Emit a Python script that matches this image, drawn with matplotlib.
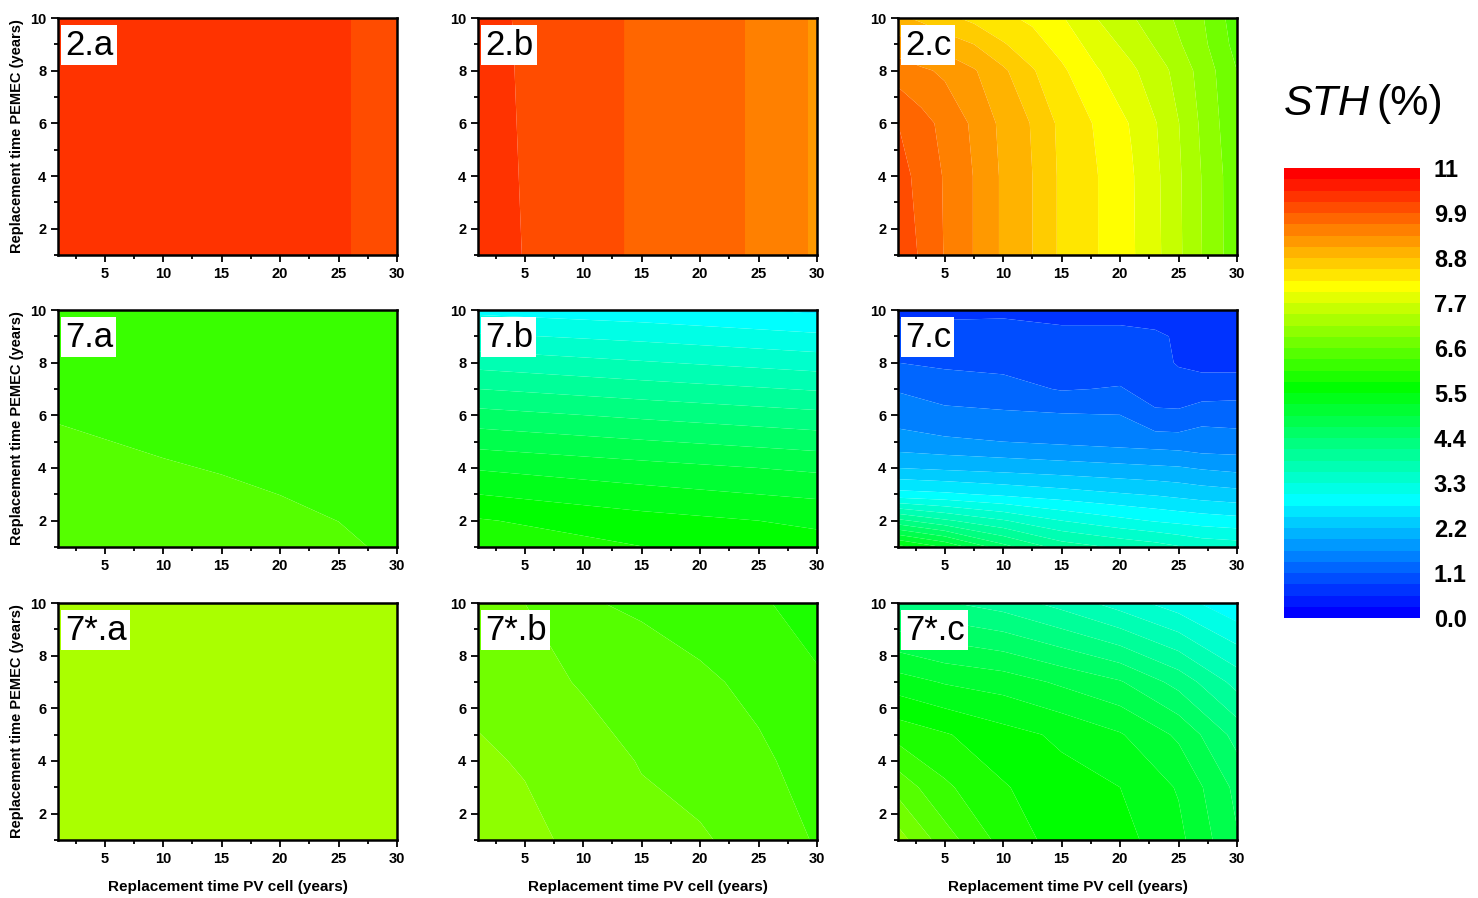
import numpy as np
import matplotlib
matplotlib.use("Agg")
import matplotlib.pyplot as plt
from matplotlib.colors import ListedColormap, BoundaryNorm
from matplotlib.cm import ScalarMappable
from matplotlib.ticker import MultipleLocator

plt.rcParams["font.family"] = ["Liberation Sans", "DejaVu Sans"]

# ---------------------------------------------------------------------------
# Data: STH (%) vs replacement time of PV cell (x) and PEMEC (y)
# ---------------------------------------------------------------------------
x_2a = [1, 26, 26.2, 30]
y_2a = [1, 10]
z_2a = [[10.3, 10.3, 10.05, 10.05],
        [10.3, 10.3, 10.05, 10.05]]

x_2b = [1, 4, 5, 13.4, 13.6, 23.8, 24.0, 29.2, 29.4, 30]
y_2b = [1, 10]
z_2b = [[10.3, 10.25, 10.15, 10.0, 9.8, 9.7, 9.5, 9.4, 9.2, 9.2],
        [10.3, 10.17, 10.1, 10.0, 9.8, 9.7, 9.5, 9.4, 9.2, 9.2]]

x_2c = [1, 3, 5, 7.5, 10, 12.5, 15, 18, 21, 24, 27, 30]
y_2c = [1, 4, 6, 8, 9, 10]
z_2c = [[10.1, 9.86, 9.61, 9.34, 9.03, 8.80, 8.47, 8.26, 8.01, 7.64, 7.15, 6.70],
        [10.0, 9.82, 9.60, 9.34, 9.03, 8.80, 8.47, 8.26, 8.00, 7.63, 7.14, 6.70],
        [9.90, 9.72, 9.55, 9.30, 9.00, 8.78, 8.45, 8.22, 7.95, 7.60, 7.10, 6.65],
        [9.50, 9.40, 9.30, 9.10, 8.85, 8.55, 8.30, 8.00, 7.75, 7.45, 7.05, 6.60],
        [9.20, 9.05, 8.95, 8.80, 8.55, 8.35, 8.15, 7.85, 7.60, 7.30, 6.95, 6.50],
        [8.85, 8.75, 8.60, 8.45, 8.30, 8.20, 8.00, 7.70, 7.45, 7.20, 6.90, 6.45]]

x_7a = [1, 10, 15, 20, 25, 30]
y_7a = [1, 10]
z_7a = [[6.46, 6.40, 6.38, 6.36, 6.34, 6.31],
        [6.20, 6.20, 6.20, 6.20, 6.20, 6.20]]

x_7b = [1, 15, 30]
y_7b = [1, 2, 4, 6, 8, 10]
z_7b = [[5.85, 5.78, 5.60],
        [5.80, 5.60, 5.45],
        [5.20, 5.05, 4.90],
        [4.50, 4.35, 4.20],
        [3.75, 3.60, 3.45],
        [2.95, 2.85, 2.70]]

x_7c = [1, 5, 10, 15, 20, 23, 25, 27, 30]
y_7c = [1, 2, 3, 4, 5, 6, 7, 8, 9, 10]
z_7c = [[5.60, 5.20, 4.50, 4.00, 3.80, 3.70, 3.60, 3.50, 3.45],
        [4.20, 3.90, 3.60, 3.30, 3.10, 3.00, 2.95, 2.90, 2.85],
        [2.85, 2.80, 2.70, 2.60, 2.50, 2.45, 2.40, 2.35, 2.30],
        [2.20, 2.15, 2.10, 2.05, 2.00, 1.97, 1.95, 1.90, 1.85],
        [1.75, 1.70, 1.65, 1.60, 1.55, 1.52, 1.50, 1.45, 1.45],
        [1.55, 1.45, 1.42, 1.40, 1.38, 1.15, 1.15, 1.32, 1.30],
        [1.35, 1.25, 1.20, 1.08, 1.12, 0.98, 0.95, 0.90, 0.95],
        [1.10, 1.05, 1.02, 1.00, 0.95, 0.92, 0.80, 0.78, 0.75],
        [0.95, 0.95, 0.92, 0.88, 0.88, 0.86, 0.80, 0.72, 0.70],
        [0.75, 0.75, 0.78, 0.75, 0.75, 0.72, 0.72, 0.68, 0.65]]

x_7sa = [1, 30]
y_7sa = [1, 10]
z_7sa = [[7.3, 7.3],
         [7.3, 7.3]]

x_7sb = [1, 5, 10, 15, 20, 25, 30]
y_7sb = [1, 4, 7, 10]
z_7sb = [[7.00, 6.95, 6.80, 6.70, 6.63, 6.50, 6.30],
         [6.92, 6.85, 6.75, 6.58, 6.50, 6.38, 6.20],
         [6.80, 6.72, 6.57, 6.47, 6.38, 6.25, 6.08],
         [6.68, 6.60, 6.35, 6.28, 6.18, 6.08, 5.95]]

x_7sc = [1, 5, 10, 15, 20, 25, 30]
y_7sc = [1, 3, 5, 7, 10]
z_7sc = [[7.00, 6.45, 5.95, 5.65, 5.60, 5.30, 4.70],
         [6.50, 6.10, 5.80, 5.60, 5.50, 5.20, 4.60],
         [5.95, 5.80, 5.60, 5.45, 5.25, 4.90, 4.30],
         [5.35, 5.20, 5.10, 4.90, 4.70, 4.30, 3.75],
         [4.30, 4.15, 4.00, 3.75, 3.45, 3.15, 2.80]]

panel_labels = ["2.a", "2.b", "2.c", "7.a", "7.b", "7.c", "7*.a", "7*.b", "7*.c"]
cbar_ticks = [0.0, 1.1, 2.2, 3.3, 4.4, 5.5, 6.6, 7.7, 8.8, 9.9, 11.0]
cbar_ticklabels = ["0.0", "1.1", "2.2", "3.3", "4.4", "5.5", "6.6", "7.7", "8.8", "9.9", "11"]

panels = [(x_2a, y_2a, z_2a), (x_2b, y_2b, z_2b), (x_2c, y_2c, z_2c),
          (x_7a, y_7a, z_7a), (x_7b, y_7b, z_7b), (x_7c, y_7c, z_7c),
          (x_7sa, y_7sa, z_7sa), (x_7sb, y_7sb, z_7sb), (x_7sc, y_7sc, z_7sc)]

# ---------------------------------------------------------------------------
# Rainbow palette, 40 discrete bands 0..11
# ---------------------------------------------------------------------------
n_bands = 40
levels = np.linspace(0, 11, n_bands + 1)
anchor_idx = [0, 10, 20, 29, 39]
anchor_rgb = np.array([(0, 0, 255), (0, 255, 255), (0, 255, 0),
                       (255, 255, 0), (255, 0, 0)]) / 255.0
band_colors = [tuple(np.interp(i, anchor_idx, anchor_rgb[:, k]) for k in range(3))
               for i in range(n_bands)]
cmap = ListedColormap(band_colors)
norm = BoundaryNorm(levels, n_bands)

# ---------------------------------------------------------------------------
# Figure
# ---------------------------------------------------------------------------
W, H = 1478, 898
fig = plt.figure(figsize=(W / 100, H / 100), dpi=100)

col_left = [58, 478, 898]
row_top = [18, 310, 603]
ax_w, ax_h = 339, 237

for i, (xs, ys, zs) in enumerate(panels):
    r, c = divmod(i, 3)
    ax = fig.add_axes([col_left[c] / W, 1 - (row_top[r] + ax_h) / H, ax_w / W, ax_h / H])
    ax.contourf(xs, ys, zs, levels=levels, cmap=cmap, norm=norm, antialiased=True)
    ax.set_xlim(1, 30)
    ax.set_ylim(1, 10)
    ax.xaxis.set_major_locator(MultipleLocator(5))
    ax.xaxis.set_minor_locator(MultipleLocator(2.5))
    ax.yaxis.set_major_locator(MultipleLocator(2))
    ax.yaxis.set_minor_locator(MultipleLocator(1))
    ax.tick_params(which="both", direction="out", top=False, right=False, width=1.3)
    ax.tick_params(which="major", length=5, labelsize=10.5)
    ax.tick_params(which="minor", length=3)
    for lab in ax.get_xticklabels() + ax.get_yticklabels():
        lab.set_fontweight("bold")
    for sp in ax.spines.values():
        sp.set_linewidth(1.8)
    if c == 0:
        ax.set_ylabel("Replacement time PEMEC (years)", fontsize=10.5,
                      fontweight="bold", labelpad=4)
    if r == 2:
        ax.set_xlabel("Replacement time PV cell (years)", fontsize=11,
                      fontweight="bold", labelpad=10)
    ax.text(0.02, 0.955, panel_labels[i], transform=ax.transAxes, fontsize=25,
            ha="left", va="top",
            bbox=dict(facecolor="white", edgecolor="none", pad=2.5))

# colorbar
cax = fig.add_axes([1284 / W, 1 - 618 / H, 136 / W, 450 / H])
sm = ScalarMappable(norm=norm, cmap=cmap)
cb = fig.colorbar(sm, cax=cax, ticks=cbar_ticks)
cb.ax.minorticks_off()
cb.ax.set_yticklabels(cbar_ticklabels)
cb.ax.tick_params(length=0, labelsize=17, pad=10)
for lab in cb.ax.get_yticklabels():
    lab.set_fontweight("bold")
cb.outline.set_linewidth(0)

fig.text(1370 / W, 1 - 104 / H, "STH", fontsize=31, style="italic",
         ha="right", va="center")
fig.text(1376 / W, 1 - 104 / H, "(%)", fontsize=31, ha="left", va="center")

fig.savefig("out.png", dpi=100)
